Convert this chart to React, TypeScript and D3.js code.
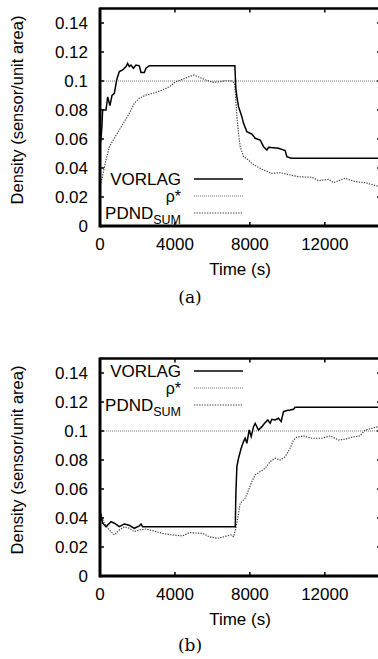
import React from "react";
import * as d3 from "d3";

const xTicks = [0, 4000, 8000, 12000];
const yTicks = [0, 0.02, 0.04, 0.06, 0.08, 0.1, 0.12, 0.14];
const yTickLabels = ["0", "0.02", "0.04", "0.06", "0.08", "0.1", "0.12", "0.14"];
const xTickLabels = ["0", "4000", "8000", "12000"];
const rhoStar = 0.1;
const seriesNames = ["VORLAG", "ρ*", "PDND"];

const vorlagA: [number, number][] = [
  [0, 0.055], [50, 0.06], [100, 0.068], [140, 0.08], [320, 0.08], [410, 0.089], [530, 0.083],
  [640, 0.09], [765, 0.0915], [890, 0.1007], [1030, 0.1065], [1210, 0.1076], [1390, 0.11],
  [1475, 0.1122], [1565, 0.11], [1650, 0.111], [1780, 0.1088], [1920, 0.111], [2100, 0.1105],
  [2190, 0.1058], [2365, 0.1058], [2455, 0.1088], [2630, 0.1105], [7200, 0.1105], [7250, 0.095],
  [7307, 0.0892], [7395, 0.0823], [7573, 0.0754], [7662, 0.0708], [7840, 0.065], [8107, 0.0634],
  [8285, 0.0605], [8550, 0.0593], [8730, 0.0547], [8907, 0.0524], [8995, 0.0543], [9530, 0.0536],
  [9885, 0.052], [9975, 0.0478], [10205, 0.0467], [15000, 0.0467],
];

const pdndA: [number, number][] = [
  [0, 0.028], [53, 0.0296], [320, 0.0455], [500, 0.0547], [765, 0.0605], [1030, 0.0662],
  [1300, 0.072], [1565, 0.0777], [1830, 0.0846], [2100, 0.0881], [2455, 0.0903], [2810, 0.0915],
  [3075, 0.0926], [3340, 0.0938], [3700, 0.096], [4050, 0.0995], [4410, 0.1012], [4765, 0.103],
  [5030, 0.1041], [5297, 0.1026], [5650, 0.1007], [6010, 0.0991], [6365, 0.0995], [6720, 0.1002],
  [7075, 0.1], [7180, 0.0984], [7250, 0.0869], [7307, 0.0754], [7395, 0.064], [7485, 0.0547],
  [7662, 0.0478], [7930, 0.0455], [8107, 0.0432], [8373, 0.041], [8730, 0.0386], [9173, 0.0363],
  [9617, 0.0368], [10150, 0.0352], [10595, 0.034], [11307, 0.0336], [11663, 0.0313], [12197, 0.0322],
  [12463, 0.0299], [13083, 0.0329], [13617, 0.0306], [14150, 0.0299], [14773, 0.0276], [15000, 0.028],
];

const vorlagB: [number, number][] = [
  [0, 0.04], [53, 0.042], [142, 0.0364], [320, 0.034], [587, 0.0375], [765, 0.0364], [1030, 0.034],
  [1300, 0.0359], [1565, 0.035], [1830, 0.0329], [2100, 0.0345], [2190, 0.0359], [2275, 0.034],
  [7220, 0.034], [7253, 0.0571], [7307, 0.0754], [7395, 0.0812], [7535, 0.0881], [7662, 0.0927],
  [7750, 0.095], [7840, 0.0915], [7963, 0.1007], [8070, 0.0961], [8197, 0.103], [8285, 0.1053],
  [8463, 0.1007], [8640, 0.103], [8818, 0.1058], [8960, 0.1076], [9085, 0.1053], [9173, 0.1081],
  [9350, 0.1076], [9530, 0.1088], [9670, 0.1065], [9795, 0.1134], [9973, 0.1141], [10150, 0.1145],
  [10330, 0.115], [10418, 0.1164], [15000, 0.1164],
];

const pdndB: [number, number][] = [
  [0, 0.04], [53, 0.042], [230, 0.0364], [500, 0.0317], [765, 0.0283], [1030, 0.0317], [1300, 0.034],
  [1565, 0.0329], [1830, 0.0306], [2100, 0.0317], [2455, 0.0324], [2810, 0.0313], [3340, 0.0294],
  [3875, 0.0283], [4410, 0.0276], [4765, 0.0299], [5475, 0.0294], [5830, 0.0271], [6275, 0.026],
  [6630, 0.0271], [6985, 0.0283], [7130, 0.0271], [7253, 0.0329], [7395, 0.0432], [7485, 0.0502],
  [7750, 0.0536], [7930, 0.0593], [8107, 0.0651], [8285, 0.0697], [8550, 0.072], [8818, 0.0743],
  [9085, 0.0789], [9350, 0.0812], [9617, 0.08], [9885, 0.0823], [10150, 0.0881], [10330, 0.0938],
  [10505, 0.0957], [10863, 0.0966], [11307, 0.095], [11840, 0.095], [12285, 0.0966], [12730, 0.0938],
  [13083, 0.0943], [13440, 0.0957], [13883, 0.0966], [14150, 0.1007], [14507, 0.1019], [14863, 0.103],
  [15000, 0.103],
];

const SANS = "'Liberation Sans', Arial, Helvetica, sans-serif";
const SERIF = "'DejaVu Serif', 'Liberation Serif', serif";
const FS = 17;
const LFS = 16;

type PanelProps = {
  id: string;
  top: number;
  bottom: number;
  legendTop: number;
  labelCenter: number;
  caption: string;
  captionY: number;
  vorlag: [number, number][];
  pdnd: [number, number][];
};

function Panel({ id, top, bottom, legendTop, labelCenter, caption, captionY, vorlag, pdnd }: PanelProps) {
  const x = d3.scaleLinear().domain([0, 15000]).range([100, 381]);
  const y = d3.scaleLinear().domain([0, 0.15]).range([bottom, top]);
  const line = d3
    .line<[number, number]>()
    .x((d) => x(d[0]))
    .y((d) => y(d[1]));
  const rhoLine: [number, number][] = [
    [0, rhoStar],
    [15000, rhoStar],
  ];
  const legendX1 = 194;
  const legendX2 = 243;
  const legendRows = seriesNames.map((n, i) => legendTop + i * 17);
  return (
    <g>
      <defs>
        <clipPath id={"clip" + id}>
          <rect x={100} y={top} width={281} height={bottom - top} />
        </clipPath>
      </defs>
      <g clipPath={`url(#clip${id})`}>
        <path d={line(rhoLine) || ""} fill="none" stroke="#6f6f6f" strokeWidth={1} strokeDasharray="1,1" />
        <path d={line(pdnd) || ""} fill="none" stroke="#3a3a3a" strokeWidth={1.15} strokeDasharray="1.3,1.3" />
        <path d={line(vorlag) || ""} fill="none" stroke="#000" strokeWidth={1.5} />
      </g>
      <line x1={x(0)} x2={x(15000)} y1={top} y2={top} stroke="#000" strokeWidth={2.5} />
      <line x1={x(0)} x2={x(15000)} y1={bottom} y2={bottom} stroke="#000" strokeWidth={3} />
      <line x1={x(0)} x2={x(0)} y1={top - 1} y2={bottom + 1.5} stroke="#000" strokeWidth={3} />
      <line x1={x(15000)} x2={x(15000)} y1={top} y2={bottom} stroke="#000" strokeWidth={2.5} />
      {yTicks.map((t, i) => (
        <g key={"y" + i}>
          <line x1={x(0)} x2={x(0) + 4} y1={y(t)} y2={y(t)} stroke="#000" strokeWidth={1.5} />
          <line x1={x(15000) - 4} x2={x(15000)} y1={y(t)} y2={y(t)} stroke="#000" strokeWidth={1.5} />
          <text x={88} y={y(t)} dy="0.35em" textAnchor="end" fontFamily={SANS} fontSize={FS}>
            {yTickLabels[i]}
          </text>
        </g>
      ))}
      {xTicks.map((t, i) => (
        <g key={"x" + i}>
          <line x1={x(t)} x2={x(t)} y1={bottom} y2={bottom - 4} stroke="#000" strokeWidth={1.5} />
          <line x1={x(t)} x2={x(t)} y1={top} y2={top + 4} stroke="#000" strokeWidth={1.5} />
          <text x={x(t)} y={bottom + 24} textAnchor="middle" fontFamily={SANS} fontSize={FS}>
            {xTickLabels[i]}
          </text>
        </g>
      ))}
      <text x={240} y={bottom + 49} textAnchor="middle" fontFamily={SANS} fontSize={FS}>
        Time (s)
      </text>
      <text
        transform={`translate(23,${labelCenter}) rotate(-90)`}
        textAnchor="middle"
        fontFamily={SANS}
        fontSize={16.5}
      >
        Density (sensor/unit area)
      </text>
      <text x={181} y={legendRows[0] + 5.5} textAnchor="end" fontFamily={SANS} fontSize={LFS + 1}>
        VORLAG
      </text>
      <line x1={legendX1} x2={legendX2} y1={legendRows[0]} y2={legendRows[0]} stroke="#000" strokeWidth={1.5} />
      <text x={181} y={legendRows[1] + 6} textAnchor="end" fontFamily={SANS} fontSize={LFS}>
        ρ*
      </text>
      <line x1={legendX1} x2={legendX2} y1={legendRows[1]} y2={legendRows[1]} stroke="#6f6f6f" strokeWidth={1} strokeDasharray="1,1" />
      <text x={181} y={legendRows[2] + 5.5} textAnchor="end" fontFamily={SANS} fontSize={LFS + 1}>
        PDND<tspan fontSize={12.5} dy={5}>SUM</tspan>
      </text>
      <line x1={legendX1} x2={legendX2} y1={legendRows[2]} y2={legendRows[2]} stroke="#3a3a3a" strokeWidth={1.15} strokeDasharray="1.3,1.3" />
      <text x={190} y={captionY} textAnchor="middle" fontFamily={SERIF} fontSize={17}>
        {caption}
      </text>
    </g>
  );
}

export default function App() {
  return (
    <svg
      width={378}
      height={659}
      style={{ position: "absolute", left: 0, top: 0, background: "#fff" }}
    >
      <rect x={0} y={0} width={378} height={659} fill="#fff" />
      <Panel
        id="a"
        top={8.5}
        bottom={226}
        legendTop={179}
        labelCenter={110}
        caption="(a)"
        captionY={303}
        vorlag={vorlagA}
        pdnd={pdndA}
      />
      <Panel
        id="b"
        top={358.5}
        bottom={576}
        legendTop={371}
        labelCenter={460}
        caption="(b)"
        captionY={651}
        vorlag={vorlagB}
        pdnd={pdndB}
      />
    </svg>
  );
}
